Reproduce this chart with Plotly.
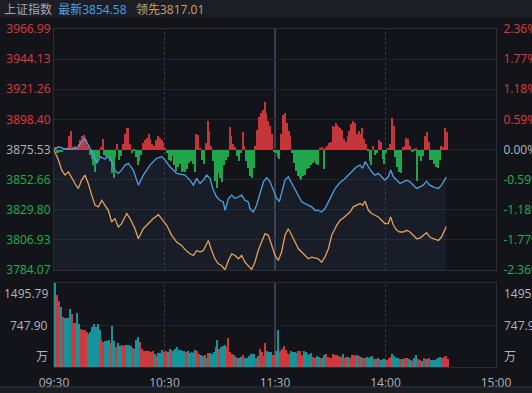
import plotly.graph_objects as go

# ---------------- data ----------------
prev_close = 3875.53
last_price = 3854.58
lead_price = 3817.01
price_ticks = [3966.99, 3944.13, 3921.26, 3898.40, 3875.53, 3852.66, 3829.80, 3806.93, 3784.07]
pct_ticks = [2.36, 1.77, 1.18, 0.59, 0.00, -0.59, -1.18, -1.77, -2.36]
vol_max = 1495.79
vol_mid = 747.90
vol_unit = "万"
time_ticks = [0, 60, 120, 180, 240]
time_labels = ["09:30", "10:30", "11:30", "14:00", "15:00"]

# minutes since 09:30 (trading minutes), index price
blue_t = [0, 2.4, 5.1, 8.7, 12.3, 15.9, 16.8, 18.6, 21.4, 23.2,
          25.0, 27.7, 29.5, 31.3, 33.1, 34.9, 36.7, 38.6, 40.4, 43.1,
          45.8, 48.5, 52.1, 55.7, 58.5, 60.3, 63.0, 66.6, 69.0, 71.1,
          73.8, 75.7, 77.5, 79.3, 81.1, 82.9, 84.7, 86.5, 88.3, 90.1,
          91.9, 92.9, 94.7, 96.5, 98.3, 100.1, 101.9, 103.7, 105.5, 106.4,
          108.2, 110.0, 111.9, 113.7, 115.5, 117.3, 119.1, 120.9, 122.4, 123.6,
          125.4, 127.2, 129.1, 130.9, 132.7, 134.5, 136.3, 138.1, 139.9, 141.7,
          143.5, 145.3, 147.1, 149.0, 150.8, 152.6, 155.3, 157.1, 158.9, 160.7,
          162.5, 164.3, 166.2, 167.6, 168.9, 170.7, 172.5, 174.3, 176.1, 177.9,
          179.7, 181.5, 182.8, 184.3, 186.1, 187.9, 189.7, 191.5, 193.3, 195.1,
          196.9, 198.7, 200.5, 202.3, 204.1, 205.9, 208.7, 210.4, 213.0]
blue_p = [3875.2, 3877.7, 3876.4, 3875.7, 3876.4, 3882.8, 3884.0, 3879.0, 3871.3, 3865.0,
          3870.1, 3868.3, 3870.1, 3866.3, 3859.9, 3857.4, 3859.9, 3863.7, 3865.0, 3859.9,
          3848.5, 3856.1, 3863.7, 3868.8, 3870.1, 3867.5, 3862.4, 3857.4, 3857.0, 3856.1,
          3852.3, 3848.5, 3853.6, 3849.7, 3852.3, 3856.1, 3853.6, 3844.7, 3839.6, 3837.0,
          3835.8, 3829.4, 3838.3, 3840.9, 3838.3, 3839.6, 3840.9, 3837.0, 3835.8, 3830.7,
          3828.1, 3833.2, 3842.1, 3851.0, 3854.1, 3851.0, 3844.7, 3838.3, 3836.3, 3842.1,
          3852.3, 3854.8, 3849.7, 3844.7, 3840.9, 3835.8, 3834.5, 3833.2, 3832.0, 3829.4,
          3829.4, 3828.1, 3830.7, 3835.8, 3840.9, 3845.9, 3850.5, 3852.3, 3854.8, 3857.4,
          3859.9, 3862.4, 3863.7, 3861.2, 3866.3, 3862.4, 3858.6, 3856.1, 3857.4, 3854.8,
          3852.3, 3854.8, 3859.9, 3854.8, 3852.3, 3849.7, 3851.0, 3852.3, 3851.0, 3848.5,
          3845.9, 3847.2, 3848.5, 3851.5, 3848.5, 3847.2, 3845.9, 3848.5, 3854.58]

lead_t = [0, 2.4, 4.2, 6.0, 7.8, 9.6, 11.4, 13.2, 15.0, 16.8,
          18.6, 20.5, 22.3, 24.1, 25.9, 27.7, 29.5, 31.3, 33.1, 34.9,
          36.7, 39.5, 41.3, 44.0, 45.8, 48.5, 51.2, 53.9, 56.7, 58.5,
          61.2, 63.9, 66.6, 69.3, 71.1, 73.8, 75.7, 77.5, 79.3, 81.1,
          83.8, 85.6, 87.4, 89.2, 91.0, 92.9, 94.7, 96.5, 98.3, 100.1,
          101.9, 103.7, 105.5, 107.3, 109.1, 110.9, 112.7, 114.6, 116.4, 118.2,
          120.0, 121.8, 123.6, 125.4, 127.2, 129.1, 130.9, 132.7, 134.5, 136.3,
          138.1, 139.9, 141.7, 143.5, 145.3, 147.1, 149.0, 150.8, 153.5, 155.3,
          157.1, 158.9, 160.7, 162.5, 164.3, 166.2, 167.6, 168.9, 170.7, 172.5,
          174.3, 176.1, 177.9, 179.7, 181.5, 182.8, 184.3, 186.1, 187.9, 189.7,
          191.5, 193.3, 195.1, 196.9, 198.7, 200.5, 202.3, 204.1, 205.9, 208.7,
          210.4, 213.0]
lead_p = [3875.2, 3867.5, 3859.9, 3856.1, 3858.6, 3853.6, 3849.7, 3845.9, 3852.3, 3856.1,
          3849.7, 3840.9, 3833.2, 3832.0, 3837.0, 3833.2, 3829.4, 3820.5, 3823.1, 3816.7,
          3819.3, 3826.9, 3823.1, 3815.4, 3807.8, 3815.4, 3819.3, 3823.1, 3826.1, 3823.1,
          3818.0, 3810.4, 3805.3, 3802.7, 3799.7, 3796.4, 3795.1, 3798.9, 3797.7, 3798.9,
          3806.5, 3798.9, 3792.6, 3788.8, 3787.5, 3784.1, 3791.3, 3796.4, 3795.1, 3792.6,
          3795.1, 3790.0, 3787.5, 3784.5, 3790.0, 3798.9, 3805.3, 3811.6, 3810.4, 3802.7,
          3795.1, 3791.3, 3797.7, 3810.4, 3815.4, 3810.4, 3805.3, 3800.2, 3797.7, 3795.1,
          3792.6, 3793.8, 3793.1, 3792.6, 3790.0, 3793.8, 3800.2, 3810.4, 3818.0, 3821.8,
          3823.6, 3825.6, 3828.1, 3832.0, 3833.2, 3834.5, 3833.2, 3836.3, 3829.4, 3826.9,
          3825.6, 3824.3, 3821.8, 3819.3, 3819.3, 3824.3, 3818.0, 3814.2, 3812.9, 3812.9,
          3814.2, 3812.9, 3810.4, 3807.8, 3808.3, 3810.4, 3812.4, 3809.1, 3807.8, 3806.5,
          3809.1, 3817.01]

# per-minute buy/sell strength bars (index points from previous close)
strength = [2, -3, -3, -2, -2, 0.5, 1, 2, 10, 14,
            2, 3, 2, 4, 7, 10, 11, 7, 3, -4,
            -7, -12, -17, -10, -6, 2, 8, -4, -6, -5,
            -9, -18, -22, -6, 4, -8, -5, 4, 12, 16,
            16, 4, -3, -1, -6, -12, -9, -4, 5, 7,
            9, 12, 8, 4, 3, 7, 10, 9, 7, 5,
            0.5, -3, -8, -9, -5, -12, -16, -13, -11, -17,
            -16, -17, -15, -10, -9, -11, -17, 12, 11, 1,
            -8, -11, 5, 22, 14, 3, -9, -24, -29, -18,
            -22, -25, -12, -8, -6, 17, 10, 4, 2, -5,
            -9, -3, 13, 3, -9, -14, -20, -22, -14, 3,
            15, 25, 28, 30, 36, 28, 22, 18, 12, -2,
            -3, -6, -7, 12, 26, 28, 20, 14, 10, -3,
            -10, -16, -20, -22, -23, -20, -19, -15, -14, -12,
            -10, -9, -11, -12, 0.5, 2, -15, 0.5, 3, 5,
            6, 18, 17, 20, 18, 16, 15, 8, 6, 10,
            14, 19, 22, 20, 12, 14, 12, 16, 8, 4,
            -1, -9, -12, 3, -4, -3, 7, 6, -7, -11,
            -3, 0.5, 4, 24, 18, -6, -13, -17, -18, 2,
            3, 9, 8, 3, -2, -1, 1, -24, -5, -9,
            -5, 10, 13, 6, -8, -8, -11, -13, -14, -8,
            3, 2, 16, 13]

# per-minute volume (万) and its direction (u = up, d = down)
volume = [1495.79, 1284, 1182, 1073, 892, 880, 880, 880, 1031, 935,
          784, 784, 953, 772, 681, 663, 663, 621, 591, 621,
          711, 772, 711, 772, 663, 500, 440, 470, 458, 482,
          422, 724, 470, 350, 422, 368, 392, 380, 398, 398,
          398, 374, 338, 320, 482, 543, 452, 320, 289, 277,
          289, 277, 259, 277, 229, 199, 241, 241, 308, 259,
          277, 259, 320, 308, 277, 320, 350, 302, 302, 277,
          289, 265, 277, 241, 259, 241, 302, 289, 229, 217,
          199, 217, 169, 241, 241, 229, 259, 350, 488, 320,
          350, 380, 398, 350, 519, 259, 229, 217, 181, 169,
          157, 181, 217, 169, 169, 199, 229, 229, 229, 169,
          199, 320, 259, 199, 422, 289, 259, 259, 217, 217,
          289, 651, 277, 320, 368, 302, 241, 229, 277, 259,
          259, 241, 277, 289, 217, 277, 259, 229, 217, 241,
          181, 169, 199, 181, 169, 169, 217, 229, 181, 169,
          169, 229, 217, 217, 199, 181, 229, 169, 181, 181,
          169, 217, 217, 199, 217, 199, 181, 169, 169, 181,
          169, 181, 199, 139, 139, 157, 139, 121, 139, 139,
          121, 157, 181, 229, 199, 169, 169, 139, 139, 139,
          157, 157, 139, 133, 109, 157, 217, 139, 127, 109,
          157, 139, 139, 157, 121, 121, 121, 139, 157, 181,
          157, 181, 199, 139]
vol_side = """
d u u d u d d d d u
u d d d u u u u d d
d d d d d u u d d d
u d d u d d d u u d
d d u d d d u u u u
u u u u d u d d d u
u d d u d d d d d d
d u d d u d d u u d
d u d u d d d d d u
d d d u u u u d u d
d d u d d d d d d u
d u u u u d d d u u
d d u u u u u u d d
d d u u u d d u d d
u u d d u d d u u u
u u u u u u d u u d
u u u u d u d u u d
d d d u d u u d d d
u u u d d d d u u d
u u d d u d d u u d
u u d u d d d d d d
u u u u
""".split()
auction_vol = 500

assert len(blue_t) == len(blue_p)
assert len(lead_t) == len(lead_p)
assert len(strength) == len(volume) == len(vol_side), (len(strength), len(volume), len(vol_side))

# ---------------- style ----------------
BG = "#131419"
HEAD = "#1c1e26"
GRID = "#22242d"
FRAME = "#2b2e38"
RED = "#e2383c"
GREEN = "#1fb24e"
GRAYTXT = "#b1b4bd"
BAR_RED = "#c5363b"
BAR_GREEN = "#1fa64b"
VOL_RED = "#d0393b"
VOL_TEAL = "#14959c"
BLUE = "#4aa2e4"
ORANGE = "#e1a256"
FONT = "Open Sans, Noto Sans CJK SC, sans-serif"


def colored(text, v, ref):
    c = RED if v > ref else (GREEN if v < ref else GRAYTXT)
    return f"<span style='color:{c}'>{text}</span>"


minutes = list(range(len(strength)))
fig = go.Figure()

fig.add_trace(go.Bar(
    x=minutes, y=strength, base=prev_close, offset=0.1, width=0.78,
    marker=dict(color=[BAR_RED if s > 0 else BAR_GREEN for s in strength], line=dict(width=0)),
    xaxis="x", yaxis="y", hoverinfo="skip", showlegend=False))

fig.add_trace(go.Scatter(
    x=blue_t, y=blue_p, mode="lines", line=dict(color=BLUE, width=1.3),
    fill="tozeroy", fillcolor="rgba(70,115,175,0.10)",
    xaxis="x", yaxis="y", name="最新", showlegend=False))
fig.add_trace(go.Scatter(
    x=lead_t, y=lead_p, mode="lines", line=dict(color=ORANGE, width=1.3),
    xaxis="x", yaxis="y", name="领先", showlegend=False))

lo, hi = price_ticks[-1], price_ticks[0]
fig.add_trace(go.Scatter(
    x=[0], y=[0], mode="markers", marker=dict(opacity=0), xaxis="x", yaxis="y3",
    hoverinfo="skip", showlegend=False))

fig.add_trace(go.Bar(
    x=[0], y=[auction_vol], offset=0.0, width=0.4, marker=dict(color="#9fa3ad", line=dict(width=0)),
    xaxis="x2", yaxis="y2", hoverinfo="skip", showlegend=False))
fig.add_trace(go.Bar(
    x=minutes, y=volume, offset=0.45, width=0.8,
    marker=dict(color=[VOL_RED if s == "u" else VOL_TEAL for s in vol_side], line=dict(width=0)),
    xaxis="x2", yaxis="y2", hoverinfo="skip", showlegend=False))

W, H = 532, 393
ml, mr, mt, mb = 54, 36, 29, 26
ph = H - mt - mb
pw = W - ml - mr
main_lo = (H - mb - 270) / ph
vol_hi = (H - mb - 283) / ph

fig.update_layout(
    width=W, height=H, margin=dict(l=ml, r=mr, t=mt, b=mb, autoexpand=False),
    paper_bgcolor=BG, plot_bgcolor=BG, barmode="overlay", bargap=0,
    font=dict(family=FONT, size=12, color=GRAYTXT),
    showlegend=False,
    title=dict(
        text=("上证指数\u00a0\u00a0"
              f"<span style='color:{BLUE}'>最新{last_price:.2f}</span>\u00a0\u00a0\u00a0"
              f"<span style='color:#c9a26a'>领先{lead_price:.2f}</span>"),
        x=4 / W, xanchor="left", xref="container",
        y=1 - 9.5 / H, yanchor="middle", yref="container",
        font=dict(size=12, color="#a4a7b0", family=FONT)),
    xaxis=dict(domain=[0, 1], range=[0, 240], anchor="y", showticklabels=False,
               showgrid=False, zeroline=False, showline=True, linecolor=FRAME,
               mirror=True, ticks="", fixedrange=True, automargin=False),
    yaxis=dict(domain=[main_lo, 1], range=[lo, hi], tickvals=price_ticks,
               ticktext=[colored(f"{v:.2f}", v, prev_close) for v in price_ticks],
               gridcolor=GRID, gridwidth=1, zeroline=False, showline=True, linecolor=FRAME,
               mirror=True, ticks="", tickfont=dict(size=12), fixedrange=True,
               automargin=False),
    yaxis3=dict(overlaying="y", side="right", anchor="x",
                range=[(lo / prev_close - 1) * 100, (hi / prev_close - 1) * 100],
                tickvals=pct_ticks,
                ticktext=[colored(f"{v:.2f}%", v, 0) for v in pct_ticks],
                showgrid=False, zeroline=False, showline=False,
                ticks="outside", ticklen=4, tickcolor="rgba(0,0,0,0)",
                tickfont=dict(size=12), fixedrange=True, automargin=False),
    xaxis2=dict(domain=[0, 1], range=[0, 240], anchor="y2", tickvals=time_ticks,
                ticktext=time_labels, showgrid=False, zeroline=False, showline=True,
                linecolor=FRAME, mirror=True,
                ticks="outside", ticklen=5, tickcolor="rgba(0,0,0,0)",
                tickfont=dict(size=12, color=GRAYTXT), fixedrange=True, automargin=False),
    yaxis2=dict(domain=[0, vol_hi], range=[0, vol_max], tickvals=[vol_mid, vol_max],
                showticklabels=False, gridcolor=GRID, zeroline=False, showline=True,
                linecolor=FRAME, mirror=True, ticks="", fixedrange=True, automargin=False),
)

# volume axis labels (both sides)
for side_x, anchor, shift, labels in [
        (0, "right", -4, [f"{vol_max:.2f}", f"{vol_mid:.2f}", vol_unit]),
        (1, "left", 6, [f"{vol_max:.2f}", f"{vol_mid:.1f}", vol_unit])]:
    for val, ya, txt in zip([vol_max, vol_mid, 0], ["top", "middle", "bottom"], labels):
        fig.add_annotation(x=side_x, xref="paper", y=val, yref="y2", text=txt,
                           xanchor=anchor, yanchor=ya, xshift=shift, showarrow=False,
                           font=dict(size=12, color=GRAYTXT, family=FONT))

# session divider lines
for t in time_ticks[1:-1]:
    solid = (t == 120)
    for yr in ["y domain", "y2 domain"]:
        fig.add_shape(type="line", xref="x" if yr.startswith("y ") else "x2", yref=yr,
                      x0=t, x1=t, y0=0, y1=1, layer="below",
                      line=dict(color="#3b3f4d" if solid else "#343744",
                                width=2 if solid else 1,
                                dash="solid" if solid else "3px,2px"))

# header strip and bottom strip
fig.add_shape(type="rect", xref="paper", yref="paper", x0=-ml / pw, x1=1 + mr / pw,
              y0=1 + (mt - 18) / ph, y1=1 + mt / ph, fillcolor=HEAD, line=dict(width=0),
              layer="below")
fig.add_shape(type="rect", xref="paper", yref="paper", x0=-ml / pw, x1=1 + mr / pw,
              y0=-mb / ph, y1=-(387 - (H - mb)) / ph,
              fillcolor="#1b1d24", line=dict(width=0), layer="below")
fig.add_shape(type="line", xref="paper", yref="paper", x0=-ml / pw, x1=1 + mr / pw,
              y0=-(387 - (H - mb)) / ph, y1=-(387 - (H - mb)) / ph,
              line=dict(color="#2c3648", width=1))

fig.write_html("out.html", config={"displayModeBar": False},
               post_script="document.body.style.margin='0';document.body.style.background='" + BG + "';")
